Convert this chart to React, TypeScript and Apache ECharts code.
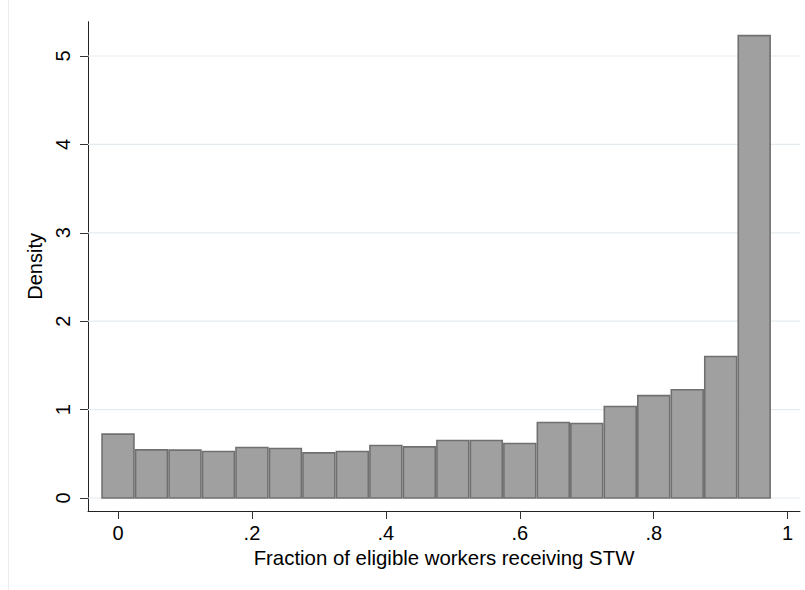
import React, { useEffect, useRef } from "react";
import * as echarts from "echarts";

const binStarts = [-0.025, 0.025, 0.075, 0.125, 0.175, 0.225, 0.275, 0.325, 0.375, 0.425, 0.475, 0.525, 0.575, 0.625, 0.675, 0.725, 0.775, 0.825, 0.875, 0.925];
const binWidth = 0.05;
const densities = [0.732, 0.554, 0.551, 0.535, 0.58, 0.569, 0.52, 0.535, 0.603, 0.588, 0.66, 0.66, 0.626, 0.863, 0.852, 1.044, 1.167, 1.234, 1.61, 5.24];
const xTicks = [0, 0.2, 0.4, 0.6, 0.8, 1];
const xTickLabels = ["0", ".2", ".4", ".6", ".8", "1"];
const yTicks = [0, 1, 2, 3, 4, 5];
const xTitle = "Fraction of eligible workers receiving STW";
const yTitle = "Density";

export default function App() {
  const ref = useRef<HTMLDivElement>(null);
  useEffect(() => {
    if (!ref.current) return;
    const chart = echarts.init(ref.current, null, { renderer: "svg" });
    const data = binStarts.map((s, i) => [s, s + binWidth, densities[i]]);
    const font = "'Liberation Sans', Arial, sans-serif";
    chart.setOption({
      animation: false,
      backgroundColor: "#ffffff",
      grid: { left: 88, right: 5, top: 21.7, bottom: 79 },
      xAxis: {
        type: "value",
        min: -0.0448,
        max: 1.0184,
        name: xTitle,
        nameLocation: "middle",
        nameGap: 29,
        nameTextStyle: { fontFamily: font, fontSize: 20.4, color: "#000" },
        axisLine: { show: true, onZero: false, lineStyle: { color: "#222", width: 1 } },
        axisTick: { show: true, length: 8, lineStyle: { color: "#333" }, customValues: xTicks },
        axisLabel: {
          fontFamily: font,
          fontSize: 20,
          color: "#000",
          margin: 12,
          customValues: xTicks,
          formatter: (v: number) => {
            const i = xTicks.findIndex((t) => Math.abs(t - v) < 1e-6);
            return i >= 0 ? xTickLabels[i] : "";
          },
        },
        splitLine: { show: false },
      },
      yAxis: {
        type: "value",
        min: -0.147,
        max: 5.388,
        name: yTitle,
        nameLocation: "middle",
        nameRotate: 90,
        nameGap: 34,
        nameTextStyle: { fontFamily: font, fontSize: 20, color: "#000" },
        axisLine: { show: true, onZero: false, lineStyle: { color: "#222", width: 1 } },
        axisTick: { show: true, length: 8, lineStyle: { color: "#333" }, customValues: yTicks },
        axisLabel: {
          fontFamily: font,
          fontSize: 20,
          color: "#000",
          rotate: 90,
          margin: 15,
          customValues: yTicks,
        },
        splitLine: { show: false },
      },
      graphic: [
        {
          type: "line",
          shape: { x1: 8.5, y1: 0, x2: 8.5, y2: 590 },
          style: { stroke: "#ececec", lineWidth: 1 },
          silent: true,
        },
      ],
      series: [
        {
          type: "custom",
          name: "grid",
          silent: true,
          z: 1,
          data: yTicks.map((t) => [t]),
          renderItem: (params: any, api: any) => {
            const v = api.value(0);
            const p = api.coord([0, v]);
            const cs = params.coordSys;
            return {
              type: "line",
              shape: { x1: cs.x, y1: p[1], x2: cs.x + cs.width, y2: p[1] },
              style: { stroke: "#e4ecef", lineWidth: 1.2 },
            };
          },
        },
        {
          type: "custom",
          name: "hist",
          z: 2,
          data,
          renderItem: (params: any, api: any) => {
            const a = api.coord([api.value(0), api.value(2)]);
            const b = api.coord([api.value(1), 0]);
            const lw = 1.6;
            return {
              type: "rect",
              shape: {
                x: a[0] + lw / 2,
                y: a[1] + lw / 2,
                width: b[0] - a[0] - lw,
                height: b[1] - a[1] - lw / 2,
              },
              style: { fill: "#a0a0a0", stroke: "#707070", lineWidth: lw },
            };
          },
        },
      ],
    });
    return () => chart.dispose();
  }, []);
  return (
    <div
      ref={ref}
      style={{ position: "absolute", left: 0, top: 0, width: 805, height: 590 }}
    />
  );
}
